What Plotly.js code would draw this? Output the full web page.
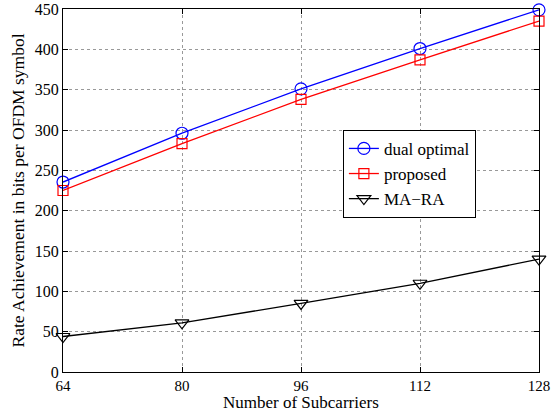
<!DOCTYPE html>
<html><head><meta charset="utf-8">
<script src="https://cdn.plot.ly/plotly-3.0.1.min.js"></script>
<style>body{margin:0;background:#fff}#c{width:551px;height:413px}</style>
</head><body><div id="c"></div>
<script>
var subcarriers = [64, 80, 96, 112, 128];
var dualOptimal = [235.5, 296, 351, 401, 449];
var proposed = [225, 283, 338, 387, 435];
var maRa = [44, 61, 85, 110, 140];
var xTicks = [64, 80, 96, 112, 128];
var yTicks = [0, 50, 100, 150, 200, 250, 300, 350, 400, 450];
var xTitle = 'Number of Subcarriers';
var yTitle = 'Rate Achievement in bits per OFDM symbol';

var fam = 'Liberation Serif, Times New Roman, serif';
var tickFont = {family: fam, size: 16, color: '#000'};
var xTickFont = {family: fam, size: 15, color: '#000'};
var titleFont = {family: fam, size: 17.5, color: '#000'};
var xTitleFont = {family: fam, size: 17, color: '#000'};
function tr(name, y, color, sym, size) {
  return {x: subcarriers, y: y, name: name, type: 'scatter', mode: 'lines+markers',
    cliponaxis: false,
    line: {color: color, width: 1.3},
    marker: {symbol: sym, size: size, color: color, line: {color: color, width: 1.2}}};
}
var data = [
  tr('dual optimal', dualOptimal, '#0000ff', 'circle-open', 12),
  tr('proposed', proposed, '#ff0000', 'square-open', 10),
  tr('MA\u2212RA', maRa, '#000000', 'triangle-down-open', 12)
];
var axisCommon = {showline: true, linecolor: '#000', linewidth: 1, mirror: 'allticks',
  ticks: 'inside', ticklen: 5, tickcolor: '#000', showgrid: true, gridcolor: '#999',
  griddash: 'dot', gridwidth: 1, zeroline: false, tickfont: tickFont};
var layout = {
  width: 551, height: 413, paper_bgcolor: '#fff', plot_bgcolor: '#fff',
  margin: {l: 63, r: 12, t: 9, b: 41},
  font: tickFont, showlegend: true,
  xaxis: Object.assign({}, axisCommon, {range: [64, 128], tickvals: xTicks, tickfont: xTickFont}),
  yaxis: Object.assign({}, axisCommon, {range: [0, 450], tickvals: yTicks,
    title: {text: yTitle, font: titleFont, standoff: 5}}),
  annotations: [{text: xTitle, xref: 'paper', yref: 'paper', x: 0.5, y: -0.112,
    xanchor: 'center', yanchor: 'bottom', showarrow: false, font: xTitleFont, borderpad: 0}],
  legend: {x: 0.588, y: 0.667, xanchor: 'left', yanchor: 'top', bordercolor: '#000',
    borderwidth: 1, bgcolor: '#fff', font: {family: fam, size: 17, color: '#000'},
    tracegroupgap: 0}
};
Plotly.newPlot('c', data, layout, {displayModeBar: false});
</script></body></html>
